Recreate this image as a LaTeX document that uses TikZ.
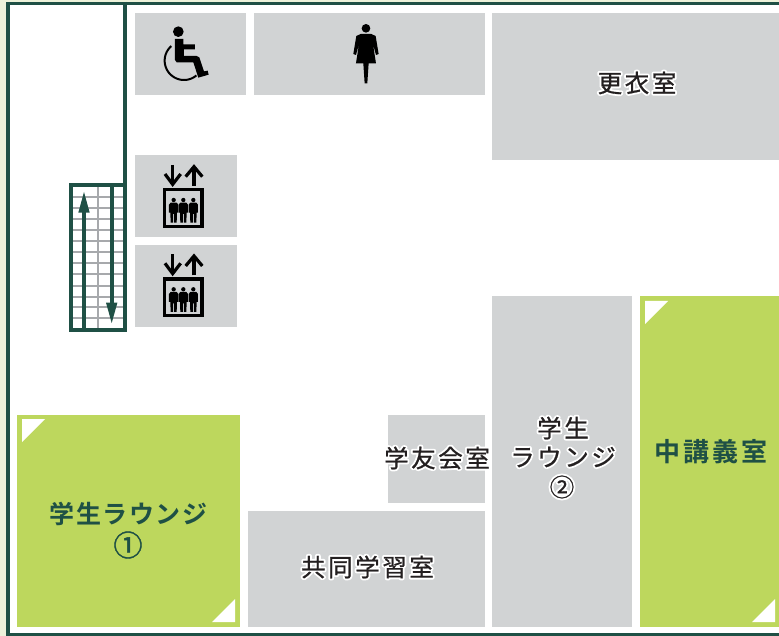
\documentclass[tikz,border=0pt]{standalone}
\usepackage{fontspec}
\newfontfamily\jpreg[LetterSpace=10.5,FakeBold=0.8]{Noto Sans CJK JP}
\newfontfamily\jphalo[LetterSpace=10.5]{Noto Sans CJK JP}
\newfontfamily\jpboldwide[LetterSpace=12]{Noto Sans CJK JP Bold}
\newfontfamily\jpboldtight[LetterSpace=6.5]{Noto Sans CJK JP Bold}
\newfontfamily\jpcircle[FakeBold=1.5]{Noto Sans CJK JP}
\definecolor{framegreen}{HTML}{1F5045}
\definecolor{paleout}{HTML}{EDF2DA}
\definecolor{roomgray}{HTML}{D1D3D4}
\definecolor{gridgray}{HTML}{A7A9AC}
\definecolor{lime}{HTML}{BDD75D}
\definecolor{ink}{HTML}{231F20}
\newcommand{\halotext}[1]{\leavevmode\rlap{\special{pdf:code q 1 1 1 rg 1 1 1 RG 4 w 1 j 1 J 2 Tr}\jphalo #1\special{pdf:code 0 Tr Q}}{\color{ink}\jpreg #1}}
\tikzset{
  room/.style={fill=roomgray,draw=none},
  hall/.style={fill=lime,draw=none},
  corner/.style={fill=white,draw=none},
  wall/.style={draw=framegreen,line width=3.7pt},
  grayname/.style={inner sep=0pt,font=\fontsize{24.5}{24.5}\selectfont},
  greenname/.style={inner sep=0pt,text=framegreen},
  evicon/.pic={
    \begin{scope}[x=0.3333pt,y=-0.3333pt]
      \draw[black,line width=3.2pt] (128,45) -- (128,100);
      \draw[black,line width=3.2pt] (105,72) -- (128,103) -- (152,72);
      \draw[black,line width=3.2pt] (192,108) -- (192,50);
      \draw[black,line width=3.2pt] (167,80) -- (192,50) -- (217,80);
      \draw[black,line width=3.2pt] (104,119) rectangle (216,229);
      \foreach \c in {131,160,190}{
        \fill[black] (\c,150) circle (6.5);
        \fill[black] (\c-9,158) -- (\c+9,158) -- (\c+14,164) -- (\c+14,188) -- (\c+10,188)
          -- (\c+9,218) -- (\c+1.5,218) -- (\c+1.5,192) -- (\c-1.5,192) -- (\c-1.5,218) -- (\c-9,218)
          -- (\c-10,188) -- (\c-14,188) -- (\c-14,164) -- cycle;
      }
    \end{scope}
  }
}
\begin{document}
\begin{tikzpicture}[x=1pt,y=-1pt]
\useasboundingbox (0,0) rectangle (779,636);
\fill[paleout] (0,0) rectangle (779,636);
\fill[white] (6,2) rectangle (779,636);
% frame
\fill[framegreen] (5.7,2) rectangle (779,5.5);
\fill[framegreen] (5.7,2) rectangle (9.5,636);
\fill[framegreen] (5.7,632.8) rectangle (779,636);
% rooms
\fill[room] (135,13) rectangle (246,95);
\fill[room] (254,13) rectangle (484.7,95);
\fill[room] (492.3,13) rectangle (779,160.5);
\fill[room] (135,155) rectangle (237,237);
\fill[room] (135,245) rectangle (237,327);
\fill[room] (388,414.5) rectangle (484.7,502.7);
\fill[room] (248,510.7) rectangle (484.7,626.7);
\fill[room] (492.3,296) rectangle (632.3,626.7);
\fill[hall] (17,414.5) rectangle (239.7,626.7);
\fill[hall] (640,296) rectangle (779,626.7);
\fill[corner] (22,419) -- (45,419) -- (22,442) -- cycle;
\fill[corner] (235,622) -- (235,599) -- (212,622) -- cycle;
\fill[corner] (645,301) -- (668,301) -- (645,324) -- cycle;
\fill[corner] (775,622) -- (775,599) -- (752,622) -- cycle;
% stairs
\foreach \yy in {196.7,207.7,219,230,241,252.3,263.3,274.3,285.7,296.7,307.3,318.3}
  \draw[gridgray,line width=2pt] (71,\yy) -- (125,\yy);
\draw[gridgray,line width=2pt] (98.3,185) -- (98.3,330);
\draw[wall] (125,2) -- (125,185);
\draw[wall] (71,185) rectangle (125,330);
\draw[framegreen,line width=3.6pt] (84,330) -- (84,208);
\fill[framegreen] (84,192) -- (89.7,212.7) -- (78.3,212.7) -- cycle;
\draw[framegreen,line width=3.6pt] (111.7,185) -- (111.7,306);
\fill[framegreen] (111.7,323) -- (106,302.7) -- (117.4,302.7) -- cycle;
% wheelchair
\begin{scope}[shift={(130,0)},x=0.3333pt,y=-0.3333pt]
  \fill[black] (145,95) circle (16);
  \fill[black] (135,117) -- (160,117) -- (160,133) -- (195,133) -- (195,148) -- (162,148)
    -- (162,168) -- (200,168) -- (208,172) -- (222,214) -- (233,212) -- (236,224)
    -- (205,233) -- (190,187) -- (140,187) -- (135,180) -- cycle;
  \draw[black,line width=2pt] plot[smooth,domain=229:50,samples=40] ({162+58*cos(\x)},{182+58*sin(\x)});
\end{scope}
% woman
\begin{scope}[shift={(130,0)},x=0.3333pt,y=-0.3333pt]
  \fill[black] (708,85) circle (13);
  \fill[black] (692,102) -- (724,102) -- (737,108) -- (746,162) -- (738,165) -- (729,132)
    -- (738,190) -- (716,190) -- (712,250) -- (704,250) -- (700,190) -- (678,190)
    -- (687,132) -- (678,165) -- (670,162) -- (679,108) -- cycle;
\end{scope}
% elevators
\pic at (130,150) {evicon};
\pic at (130,239.3) {evicon};
% labels
\node[grayname] (koi) at (637,83) {\halotext{更衣室}};
\node[grayname] (kyodo) at (367.5,567) {\halotext{共同学習室}};
\node[grayname] (gakuyu) at (437,458) {\halotext{学友会室}};
\node[grayname] (lg2a) at (563,428) {\halotext{学生}};
\node[grayname] (lg2b) at (563,457) {\halotext{ラウンジ}};
\node[grayname] (lg2c) at (562,487) {\halotext{②}};
\node[greenname,font=\fontsize{26}{26}\selectfont\jpboldwide] (naka) at (711,452) {中講義室};
\node[greenname,font=\fontsize{25}{25}\selectfont\jpboldtight] (lg1a) at (128.5,514) {学生ラウンジ};
\node[greenname,font=\fontsize{29}{29}\selectfont\jpcircle] (lg1b) at (128,545) {①};
\end{tikzpicture}
\end{document}
